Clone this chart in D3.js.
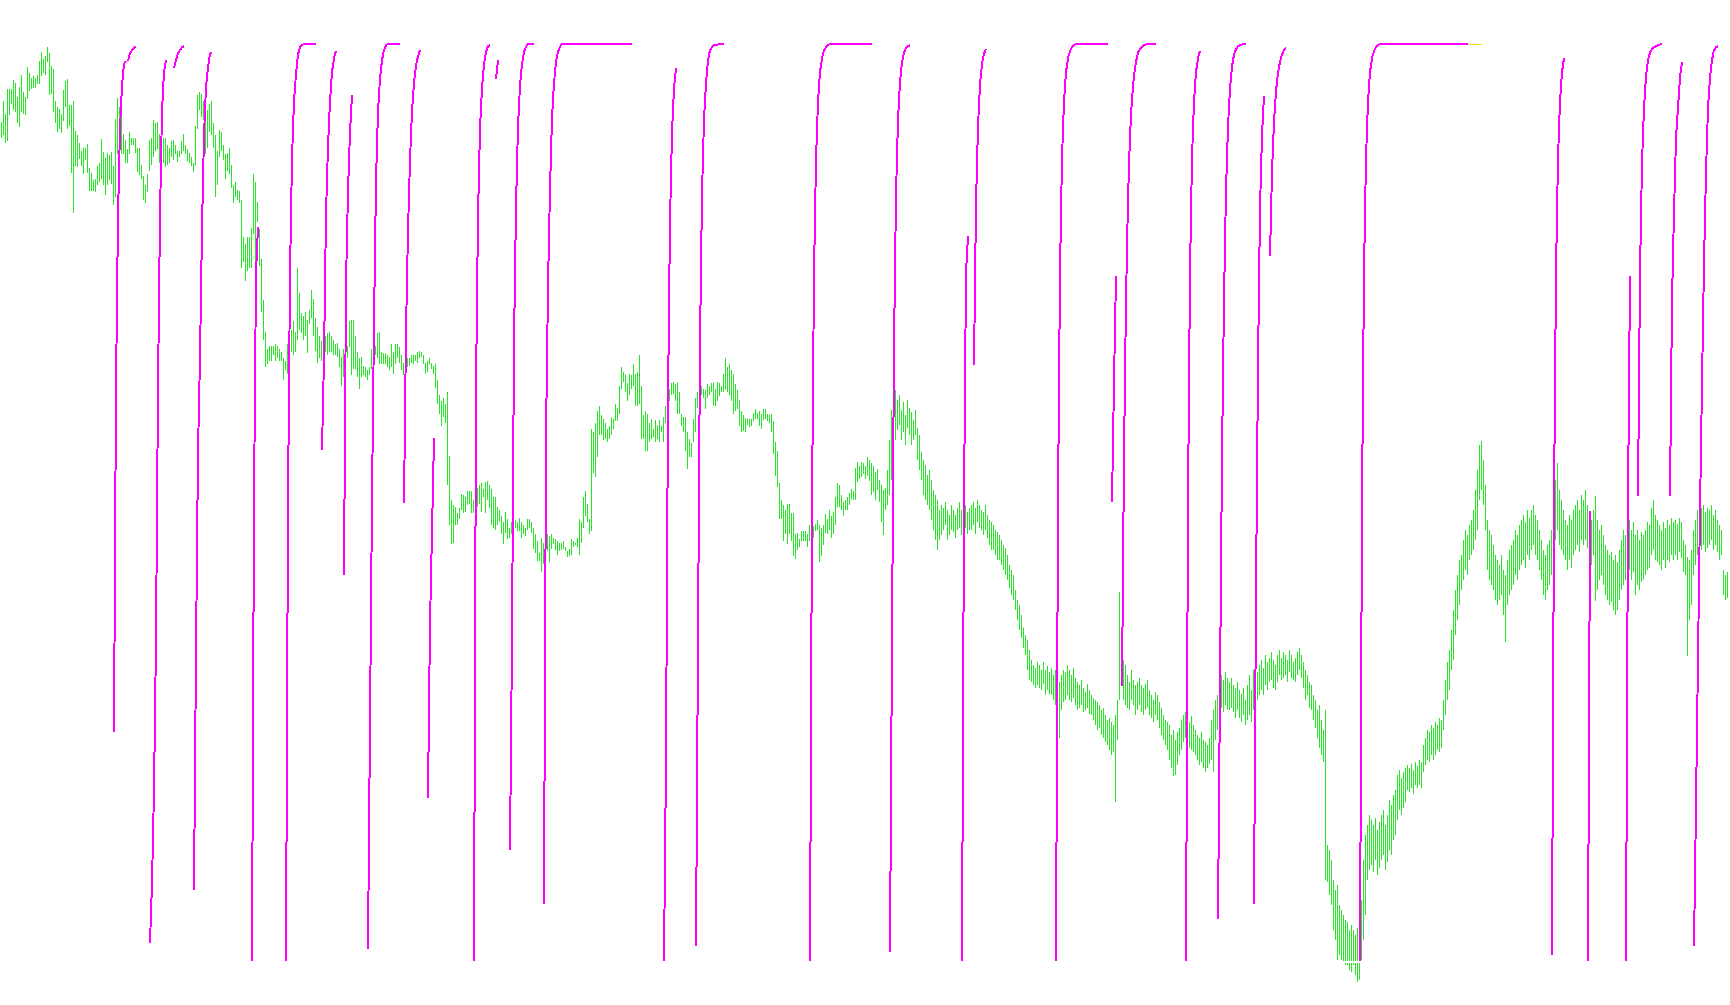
<!DOCTYPE html>
<html><head><meta charset="utf-8">
<script src="https://cdn.jsdelivr.net/npm/d3@7"></script>
<style>html,body{margin:0;padding:0;background:#fff;overflow:hidden}</style>
</head><body>
<svg id="chart" width="1730" height="1005"></svg>
<script>
// price bars (points), one entry per bar
const highs = [
878,899,886,911,911,911,920,917,903,913, 925,908,903,933,927,922,924,922,925,939,
948,941,944,953,947,934,931,899,893,891, 886,910,919,921,895,895,899,869,865,857,
849,852,852,856,832,827,820,821,834,837, 861,848,842,847,845,848,834,881,902,893,
883,866,860,851,868,862,862,862,852,852, 835,824,815,826,860,862,880,877,878,866,
855,862,862,855,852,859,860,855,849,849, 859,866,855,851,847,843,837,874,905,908,
906,899,886,890,896,899,877,865,849,870, 868,855,846,847,852,835,815,818,810,809,
800,763,756,763,763,772,826,818,798,771, 741,700,668,651,654,654,654,656,654,651,
648,642,639,656,660,670,679,668,732,707, 687,684,688,680,690,710,701,682,673,664,
659,664,664,667,668,664,660,656,657,651, 643,651,662,654,679,680,680,664,648,642,
643,634,633,630,633,651,649,654,667,668, 648,647,647,645,643,656,648,656,656,653,
645,637,642,642,642,645,645,645,648,649, 648,645,637,639,642,637,634,636,620,605,
599,602,596,608,544,500,495,493,487,492, 506,505,503,509,509,509,500,505,512,515,
517,511,518,519,515,511,503,503,493,490, 484,478,488,481,472,478,475,480,478,482,
478,475,472,481,481,478,472,466,459,447, 462,457,462,466,464,466,462,461,459,457,
457,459,453,449,451,461,459,457,462,481, 478,503,509,496,481,571,568,577,589,594,
585,581,577,571,574,583,581,596,592,614, 633,628,625,617,626,625,636,626,628,645,
614,585,589,586,577,581,571,580,575,580, 574,583,594,600,611,617,618,616,617,608,
586,583,583,568,561,557,581,602,608,617, 614,611,610,616,614,617,617,611,618,617,
614,626,642,633,636,630,626,616,610,600, 589,585,582,581,581,581,587,591,587,589,
586,591,591,586,585,586,579,558,549,517, 500,495,490,496,496,487,487,466,467,461,
469,469,469,466,475,472,474,476,480,475, 472,475,486,481,490,484,488,503,517,515,
505,498,500,503,507,511,509,532,538,534, 538,537,534,543,540,
537,534,528,531,520,515,510, 512,530,560,590,636,610,
600,605,590,598,585,600,592,588,580,590, 572,565,548,540,535,525, 530,520,510,505,500,490,
495,492,498,490,485,495,490,485,492,498,490,500,495,488,492,
495,498,492,500,495,490,488,495,485,480,478, 475,470,468,465,460,455, 452,445,435,430,425,
410,400,395,385,372,365, 360,350,340,335,332,338, 335,330,338,330,334,328,
332,325,330,320,318,325,330,328,335,330,325, 332,322,318,315,320,312,308,316,310,305,302,
300,298,295,290,292,285,280,282,278,275, 285, 300,408,360, 340,335,325,318,330,320,315,
318,322,315,312,316,320,310,305,300,308,305, 298,292,285,280,278,275, 265,270,260,268,272,
280,285,288,282,278,284, 275,270,265,262,268,260,258,255,262, 280,290,300,305, 320,325,320,328,322,
318,322,315,312,318,310,306,312,300, 315,325,310,330,322,328,
335,340,332,345,338,342,348,340,335,345,350,342, 348,345,340,350,345,338,342,348,352,345,
338,330,325,318, 315,305,300,290, 295,280,270, 290,155, 150,140,120,110, 115,95,90,85,80,
78,70,75,70,65,72,68, 100,140,165,175, 185,180,175,182,170,178,185, 190,175,185,200,195,205,210,
225,230,222,228,232, 235,232,236,230,238,234,240,238, 255,262,270,268,275,272, 278,275,282,280,
300,320,338,350, 370,390,410, 425,440,445, 460,470,465,475,480, 490,510,530, 555,559,540,
515,480,470,465, 455,445,440,435,445, 430,425, 440,450,455,460, 470,465,475,480, 485,478,490,482,
490,495,485,480, 470,460,450,445, 455,460,470, 490,520,537, 510,500,490,480, 475,485,480,490,
495,500,490,505, 500,510,495, 485,480,490, 504, 480,470,475,465, 455,450,445,448, 440,445,438,450,
460,470,465, 475,480,470,478, 465,470,460,468, 465,470,478,475, 492,500,485,480, 475,470,478,472,
480,475,482,478, 480,476,482,478, 460,455, 443, 440,450, 470,480,490,485, 492,495,488,492,
490,495,485,490, 480,475,470, 430,425,428
];
const lows = [
862,865,857,859,885,896,890,888,877,873, 888,886,885,901,909,911,912,912,916,916,
924,927,925,938,905,906,888,877,868,871, 867,879,893,871,874,827,787,834,833,841,
834,826,840,827,809,809,809,808,815,818, 821,815,805,815,820,816,795,803,846,855,
846,846,837,837,846,855,855,847,828,825, 821,800,797,808,829,835,843,849,851,837,
821,837,833,835,837,843,840,846,838,843, 846,849,846,839,837,834,828,834,871,890,
883,880,846,852,868,865,852,803,815,843, 849,840,821,829,826,812,797,803,800,797,
732,738,719,729,732,732,766,729,778,734, 688,660,633,636,639,639,645,639,642,639,
639,620,630,626,640,648,645,648,660,670, 667,660,664,647,676,682,664,649,637,642,
639,642,648,645,648,648,645,645,643,633, 614,623,633,642,653,625,631,631,623,611,
623,625,623,620,625,631,636,645,642,636, 636,636,636,633,630,633,626,636,642,637,
630,625,631,633,634,637,636,639,637,642, 643,636,626,628,636,631,626,612,596,586,
574,583,577,515,475,456,457,475,475,481, 490,487,488,495,496,487,487,496,493,496,
488,503,487,500,492,475,472,470,475,478, 466,456,467,461,462,466,469,472,469,469,
462,466,464,470,472,467,451,447,439,439, 428,436,447,449,438,451,456,450,445,449,
450,451,449,443,444,445,453,455,453,445, 457,472,484,478,466,469,527,523,543,565,
565,560,561,558,561,565,571,579,579,586, 611,618,608,599,605,611,614,594,594,596,
561,561,549,549,558,561,563,558,561,558, 568,558,577,583,599,605,606,599,586,586,
574,568,549,531,543,543,558,568,592,599, 605,602,591,602,605,608,594,594,599,604,
608,608,611,608,605,599,586,589,591,574, 568,569,568,575,573,574,579,581,581,574,
571,580,581,579,577,568,546,524,513,481, 481,459,466,456,466,459,444,441,450,453,
459,459,459,453,459,466,462,469,470,438, 444,455,467,466,470,462,466,475,493,493,
490,484,490,490,495,501,500,500,518,521, 523,526,521,524,519,
505,508,500,510,498,478,465, 490,495,505,520,540,560,
570,575,560,568,555,572,565,555,560,565, 540,530,520,505,500,495, 490,480,470,460,450,460,
465,470,475,460,465,470,468,462,470,472,465,470,472,466,470,
470,475,466,478,472,470,465,470,462,455,450, 450,445,440,440,435,430, 425,420,412,405,400,
390,380,370,362,352,345, 330,320,318,315,312,315, 312,310,316,305,310,306,
305,300,295,285,262,290,298,300,305,300,298, 302,295,290,292,295,288,290,292,286,285,280,
275,270,272,265,262,258,255,250,245,248, 198, 260,300,315, 300,295,292,290,300,295,285,
290,295,288,285,290,292,285,282,278,285,280, 272,265,260,255,250,240, 232,224,225,235,245,
250,258,262,255,252,250, 248,245,240,235,238,232,228,232,236, 240,228,260,270, 285,292,288,295,290,
290,292,288,282,290,282,278,285,275, 280,285,278,290,295,300,
305,310,305,315,310,318,320,312,310,318,325,320, 322,325,318,328,322,320,318,325,330,322,
312,300,305,292, 290,280,272,262, 252,245,238, 120,118, 105,95,70,60, 40,45,40,38,35,
35,30,28,35,25,18,20, 40,60,85,120, 130,135,128,140,125,132,140, 145,130,138,150,145,160,165,
180,190,185,192,198, 210,208,212,206,215,212,215,212, 228,235,240,238,245,240, 245,250,248,252,
270,285,300,310, 330,340,365, 380,395,410, 420,430,425,440,445, 450,460,470, 500,510,495,
470,430,420,415, 410,400,395,400,405, 385,358, 395,405,410,415, 425,420,430,435, 440,432,445,440,
450,455,445,440, 430,420,405,400, 410,415,425, 440,460,470, 455,450,445,440, 430,440,432,445,
450,455,448,460, 455,460,452, 440,435,445, 399, 410,420,425,415, 405,400,395,398, 390,385,390,400,
410,415,420, 425,430,420,428, 405,415,410,418, 420,425,430,432, 445,450,440,438, 435,430,440,432,
440,438,445,440, 445,440,448,442, 428,425, 344, 380,395, 425,435,445,440, 450,455,448,452,
455,460,450,455, 448,440,445, 405,400,402
];
// oscillator segments (0..100): first bar of each segment and its values
const oscStarts = [56, 63, 74, 86, 96, 125, 142, 160, 171, 183, 201, 213, 236, 247, 254, 271, 331, 347, 404,
  444, 480, 486, 527, 555, 560, 592, 608, 626, 634, 679, 775, 793, 812, 818, 834, 846];
const oscValues = [
[25,62.5,81.2,90.7,95.4,97.8,98.1],
[98.1,98.9,99.3,99.5,99.7],
[2.0,8.4,18.6,35,62.5,81.2,92.7,96.9,98.2],
[97.3,98.2,98.9,99.3,99.6,99.7],
[7.7,33.7,55.5,65.7,79.9,90.0,95.3,97.4,98.9,99.0],
[0,50,75,80],
[0,49.9,74.8,87.5,93.7,96.7,98.8,99.6,99.8,100,100,100,100,100,100,100],
[55.7,65.7,81.4,88.8,93.7,96.9,98.4,99.2],
[42.1,73.9,83.9,90.3,94.4],
[1.3,25.8,50.4,69.4,85.0,92.6,96.2,98.2,99.3,99.8,100,100,100,100,100,100,100],
[49.9,68.6,79.6,87.3,92.6,95.7,97.6,98.6,99.3],
[17.8,36.7,46.8,57.0],
[0,62.5,81.2,90.7,95.1,97.8,99.1,99.7,99.8],
[96.1,98.2],
[12.1,35.0,67.4,82.2,91.0,95.4,97.8,99.1,99.6,100,100,100,100],
[6.2,57.3,73.5,84.1,91.9,95.7,98.0,99.1,99.6,100,100,100,100,100,100,100,100,100,100,100,100,100,100,100,100,100,100,100,100,100,100,100,100,100,100,100,100,100,100,100,100,100,100,100,100],
[0,21.9,61.0,80.6,90.3,95.1,97.3],
[1.6,35.0,67.4,83.6,91.7,95.7,98.1,99.3,99.6,99.8,99.8,99.9,99.9,100,100],
[0,49.9,74.8,87.3,93.7,96.9,98.4,99.3,99.6,99.8,100,100,100,100,100,100,100,100,100,100,100,100,100,100,100,100,100,100,100,100,100,100],
[1.0,35,67,83.5,91.7,95.8,97.9,99,99.5,99.7,99.8],
[0,50,75,79],
[65,82.5,91,95.5,97.8,98.9,99.4],
[0,50,75,87.5,93.7,96.9,98.4,99.2,99.6,99.8,100,100,100,100,100,100,100,100,100,100,100,100,100,100,100,100,100],
[50,63,74.7],
[30,55,72,83,90,94,96.5,98,99,99.4,99.6,99.8,99.9,99.9,100,100,100,100],
[0,50,75,87.5,93.7,96.9,98.4,99.2],
[4.6,30,55,72,84,91,95,97.5,98.8,99.4,99.7,99.8,99.9,100,100],
[6.2,40,65,82,90,94.3],
[76.8,86,91.5,94.8,96.8,98,98.8,99.3,99.6],
[0,50,75,87.5,93.7,96.9,98.4,99.2,99.6,99.8,
 100,100,100,100,100,100,100,100,100,100,100,100,100,100,100,100,100,100,100,100,100,100,100,
 100,100,100,100,100,100,100,100,100,100,100,100,100,100,100,100,100,100,100,100,100,100],
[0.6,50,75,87.5,93.7,96.9,98.4],
[0,49],
[0,50,74.7],
[50.7,75,87,93,96.4,98.2,99,99.4,99.6,99.7,99.8,99.9,100],
[50.7,72,81.6,89.7,93,96.3,98],
[1.6,17,33,49,63,76,86,93,96.3,98.2,99.3,99.6,99.7]
];
// signal line (yellow)
const sigStart = 733;
const sigValues = [99.9,99.9,99.9,99.9,99.9,99.9,99.9,99.9];

const W = 1730, H = 1005, NBARS = 864;
const x = d3.scaleLinear().domain([0, NBARS - 1]).range([1, 1727]);
const yP = d3.scaleLinear().domain([0, 1000]).range([1000, 0]);
const yO = d3.scaleLinear().domain([0, 100]).range([961, 43.5]);

const svg = d3.select('#chart');
svg.append('rect').attr('width', W).attr('height', H).attr('fill', '#ffffff');

const bars = highs.map((h, i) => ({i, h, l: lows[i]}));
svg.append('g').attr('shape-rendering', 'crispEdges')
  .selectAll('rect').data(bars).join('rect')
  .attr('x', d => x(d.i)).attr('width', 1)
  .attr('y', d => yP(d.h))
  .attr('height', d => Math.max(1, yP(d.l) - yP(d.h)))
  .attr('fill', '#22e822');

svg.append('line').attr('x1', 0).attr('x2', W).attr('y1', 962).attr('y2', 962)
  .attr('stroke', '#ffffff').attr('stroke-width', 2).attr('shape-rendering', 'crispEdges');

const line = d3.line().x(d => x(d.i) + 1).y(d => yO(d.v));
const segs = oscStarts.map((s, k) => oscValues[k].map((v, j) => ({i: s + j, v})));
svg.append('g').selectAll('path').data(segs).join('path')
  .attr('d', line).attr('fill', 'none').attr('stroke', '#ff00ff')
  .attr('stroke-width', 2).attr('shape-rendering', 'crispEdges');

const sig = sigValues.map((v, j) => ({i: sigStart + j, v}));
svg.append('path').datum(sig).attr('d', line).attr('fill', 'none')
  .attr('stroke', '#ffd700').attr('stroke-width', 1.5).attr('shape-rendering', 'crispEdges');
</script>
</body></html>
